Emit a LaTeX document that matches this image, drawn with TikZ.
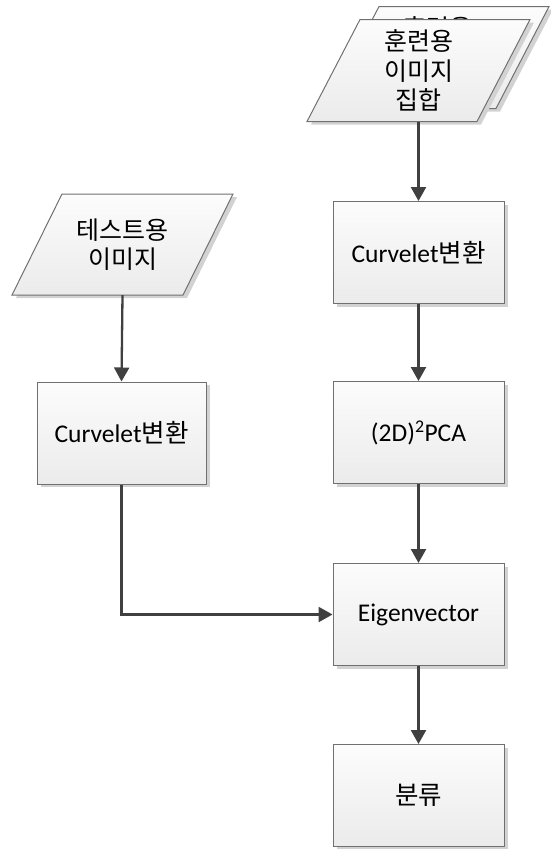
\documentclass[tikz,border=0pt]{standalone}
\usepackage{fontspec}
\setmainfont{Carlito}
\newfontfamily\kr{Noto Sans CJK KR}
\usetikzlibrary{arrows.meta,shadows,calc}
\definecolor{edge}{HTML}{707070}
\definecolor{arr}{HTML}{404040}
\definecolor{topc}{HTML}{FCFCFC}
\definecolor{botc}{HTML}{EBEBEB}
\definecolor{shad}{HTML}{D2D2D2}
\tikzset{
  shadowed/.style={drop shadow={shadow xshift=4pt,shadow yshift=-3pt,fill=shad,opacity=1}},
  filled/.style={draw=edge,line width=1pt,top color=topc,bottom color=botc,shadowed},
  box/.style={filled,rectangle,minimum width=171pt,minimum height=102pt,inner sep=0pt,
    font=\fontsize{25.5}{30}\selectfont},
  paratext/.style={rectangle,minimum height=102pt,inner sep=0pt,align=center,
    font=\kr\fontsize{25}{29.5}\selectfont},
  flow/.style={draw=arr,line width=2.3pt,-{Triangle[length=14pt,width=15pt]}}
}
\begin{document}
\begin{tikzpicture}[x=1pt,y=-1pt]
\useasboundingbox (0,0) rectangle (550,849);

% back parallelogram (stack)
\coordinate (backc) at (437.5,57.5);
\path[filled] ($(backc)+(-58.5,-51)$) -- ($(backc)+(111.5,-51)$) -- ($(backc)+(58.5,51)$) -- ($(backc)+(-111.5,51)$) -- cycle;
\node[paratext] (back) at (backc) {훈련용\\이미지\\집합};

% front parallelogram
\coordinate (trainc) at (418.5,70.5);
\path[filled] ($(trainc)+(-58.5,-51)$) -- ($(trainc)+(111.5,-51)$) -- ($(trainc)+(58.5,51)$) -- ($(trainc)+(-111.5,51)$) -- cycle;
\node[paratext] (train) at (trainc) {훈련용\\이미지\\집합};

% test parallelogram
\coordinate (testc) at (122.5,244.5);
\path[filled] ($(testc)+(-60.5,-50.5)$) -- ($(testc)+(110.5,-50.5)$) -- ($(testc)+(60.5,50.5)$) -- ($(testc)+(-110.5,50.5)$) -- cycle;
\node[paratext,minimum height=101pt] (test) at (testc) {테스트용\\이미지};

% boxes
\node[box] (cv2) at (418.5,252.5) {Curvelet{\kr 변환}};
\node[box] (pca) at (418.5,432.5) {(2D)\textsuperscript{2}PCA};
\node[box] (eig) at (418.5,614.5) {Eigenvector};
\node[box] (cls) at (418.5,795.5) {\kr 분류};
\node[box,minimum width=169pt] (cv1) at (121.5,433) {Curvelet{\kr 변환}};

% connectors
\draw[flow] (train.south) -- (cv2.north);
\draw[flow] (cv2.south) -- (pca.north);
\draw[flow] (pca.south) -- (eig.north);
\draw[flow] (eig.south) -- (cls.north);
\draw[flow] (test.south) -- (cv1.north);
\draw[flow] (cv1.south) |- (eig.west);
\end{tikzpicture}
\end{document}
